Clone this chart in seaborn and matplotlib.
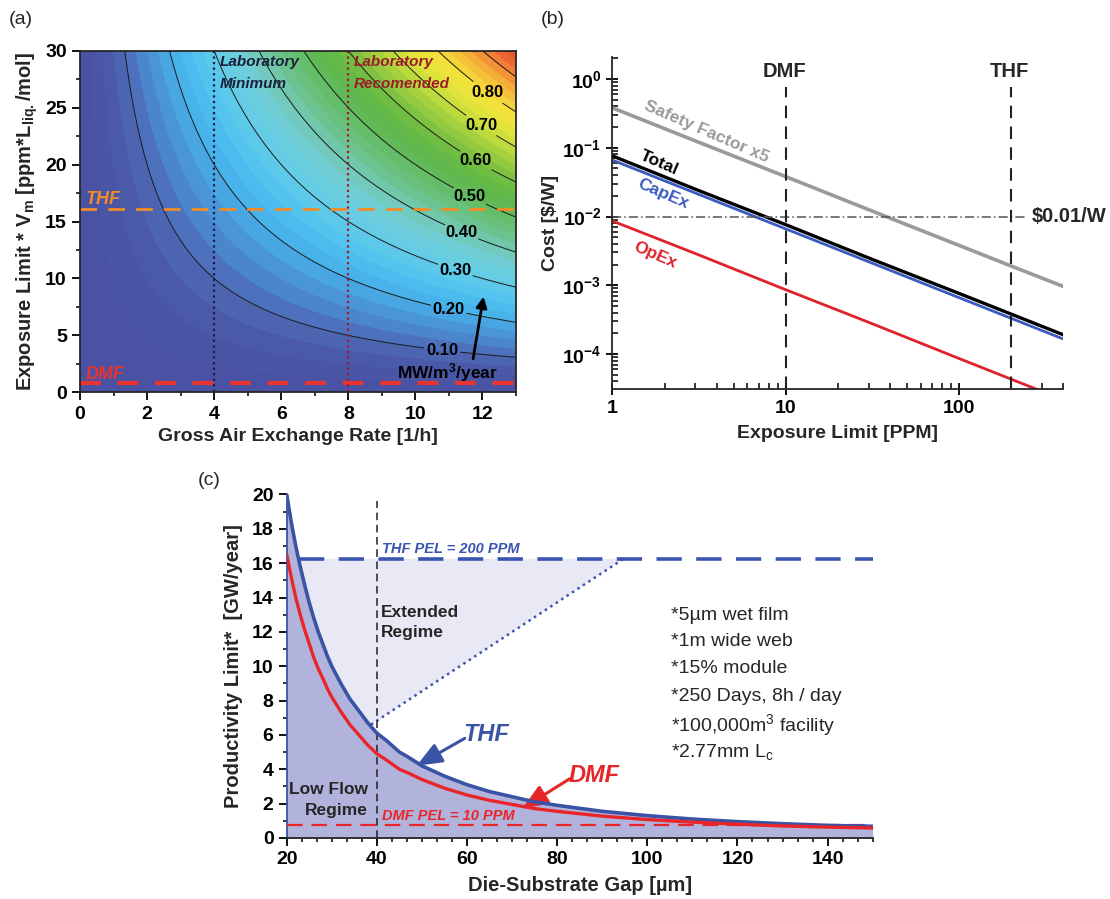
import numpy as np
import seaborn as sns
import matplotlib.pyplot as plt
from matplotlib.colors import LinearSegmentedColormap
from matplotlib.ticker import (MultipleLocator, AutoMinorLocator, FixedLocator,
                               FuncFormatter, LogLocator, NullFormatter)

# ---------------- data ----------------
# (a) productivity field, MW/m3/year = coef * ACH * (PEL*Vm); 0.10 contour passes (4, 10)
FIELD_COEF = 0.0025
ACH_RANGE = [0, 13]
EXPO_RANGE = [0, 30]
LINE_LEVELS = [0.1, 0.2, 0.3, 0.4, 0.5, 0.6, 0.7, 0.8, 0.9]
LABEL_LEVELS = [0.1, 0.2, 0.3, 0.4, 0.5, 0.6, 0.7, 0.8]
LABEL_SPOTS = [(10.8, 3.8), (11.0, 7.4), (11.2, 10.8), (11.4, 14.2),
               (11.65, 17.4), (11.85, 20.6), (12.0, 23.6), (12.2, 26.5)]
THF_LINE_A = 16.1
DMF_LINE_A = 0.8
LAB_MIN = 4
LAB_REC = 8

# (b) cost vs exposure limit
PPM = [1, 3, 10, 30, 100, 200, 400]
SAFETY = [0.38, 0.126, 0.038, 0.0126, 0.0038, 0.0019, 0.00096]
TOTAL = [0.076, 0.025, 0.0076, 0.0025, 0.00076, 0.00038, 0.00019]
CAPEX = [0.066, 0.022, 0.0066, 0.0022, 0.00066, 0.00033, 0.000165]
OPEX = [0.0086, 0.0029, 0.00086, 0.00029, 0.000086, 0.000043, 0.0000215]
TARGET = 0.01
DMF_PPM = 10
THF_PPM = 200

# (c) productivity limit vs die-substrate gap
GAP = [20, 21, 22, 23, 24, 25, 26, 27, 28, 29, 30, 32, 34, 36, 38, 40, 42,
       45, 47, 50, 55, 60, 65, 70, 75, 80, 90, 100, 110, 120, 130, 140, 150]
THF_GW = [20.0, 18.4, 17.0, 15.8, 14.7, 13.7, 12.8, 12.0, 11.3, 10.6, 10.0,
          9.0, 8.1, 7.4, 6.7, 6.1, 5.7, 5.0, 4.7, 4.2, 3.6, 3.1, 2.7, 2.4,
          2.1, 1.9, 1.55, 1.3, 1.1, 0.95, 0.83, 0.73, 0.68]
DMF_GW = [16.5, 15.2, 14.0, 13.0, 12.1, 11.3, 10.5, 9.85, 9.3, 8.7, 8.2,
          7.36, 6.6, 6.0, 5.4, 4.9, 4.56, 4.0, 3.78, 3.4, 2.9, 2.5, 2.19,
          1.95, 1.71, 1.55, 1.27, 1.07, 0.92, 0.8, 0.7, 0.63, 0.58]
THF_PEL = 16.25
DMF_PEL = 0.75
GAP_MARK = 40
EXT_START = (38.7, 6.6)
EXT_END = (94.7, THF_PEL)
NOTES = ["*5\u00b5m wet film", "*1m wide web", "*15% module",
         "*250 Days, 8h / day", r"*100,000m$\mathregular{^3}$ facility",
         r"*2.77mm L$\mathregular{_c}$"]

# ---------------- style ----------------
sns.set_theme(style="ticks")
plt.rcParams["font.family"] = ["Liberation Sans", "DejaVu Sans"]
plt.rcParams["font.weight"] = "bold"
plt.rcParams["axes.labelweight"] = "bold"
plt.rcParams["axes.linewidth"] = 1.3
plt.rcParams["xtick.color"] = "black"
plt.rcParams["ytick.color"] = "black"

fig = plt.figure(figsize=(11.1, 8.99), dpi=100)

# ================= (a) =================
ax = fig.add_axes([0.0721, 0.5636, 0.3928, 0.380])
cmap = LinearSegmentedColormap.from_list("origin_rainbow", [
    (0.00, "#4a50a2"), (0.06, "#4b58a8"), (0.10, "#4e6ab6"), (0.15, "#4a8ed3"),
    (0.20, "#47afe8"), (0.25, "#4cc2ef"), (0.30, "#62cbe9"), (0.35, "#6ecfdc"),
    (0.40, "#72c8b4"), (0.45, "#6bc286"), (0.50, "#62bb5c"), (0.55, "#5eb649"),
    (0.60, "#76bf43"), (0.65, "#9bcd3f"), (0.70, "#c4dc3c"), (0.75, "#e8e63c"),
    (0.80, "#f4e03a"), (0.85, "#f6b83a"), (0.90, "#f28a35"), (0.95, "#ec5e30"),
    (1.00, "#e84a2e")])
gx = np.linspace(ACH_RANGE[0], ACH_RANGE[1], 400)
gy = np.linspace(EXPO_RANGE[0], EXPO_RANGE[1], 400)
X, Y = np.meshgrid(gx, gy)
Z = FIELD_COEF * X * Y
ax.contourf(X, Y, Z, levels=np.arange(0, 1.0001, 0.025), cmap=cmap, vmin=0, vmax=1.0)
cs = ax.contour(X, Y, Z, levels=LINE_LEVELS, colors="#1a1a1a", linewidths=0.7)
labels = ax.clabel(cs, levels=LABEL_LEVELS, manual=LABEL_SPOTS, fmt="%.2f",
                   inline=True, inline_spacing=2, fontsize=12, colors="black")
for t in labels:
    t.set_rotation(0)
    t.set_fontweight("bold")

ax.axhline(THF_LINE_A, color="#f28c28", lw=2, ls=(0, (6, 4)))
ax.axhline(DMF_LINE_A, color="#e8332e", lw=3, ls=(0, (5, 4)))
ax.axvline(LAB_MIN, color="#1c1c44", lw=1.6, ls=(0, (1, 1.5)))
ax.axvline(LAB_REC, color="#a3192b", lw=1.6, ls=(0, (1, 1.5)))
ax.text(0.18, 16.9, "THF", color="#f28c28", style="italic",
        fontsize=13, va="center")
ax.text(0.16, 1.55, "DMF", color="#e8332e", style="italic",
        fontsize=13, va="center")
ax.text(LAB_MIN + 0.18, 29.0, "Laboratory", color="#1c1f3c", style="italic",
        fontsize=11, va="center")
ax.text(LAB_MIN + 0.18, 27.1, "Minimum", color="#1c1f3c", style="italic",
        fontsize=11, va="center")
ax.text(LAB_REC + 0.16, 29.0, "Laboratory", color="#9b1b2a", style="italic",
        fontsize=11, va="center")
ax.text(LAB_REC + 0.16, 27.1, "Recomended", color="#9b1b2a", style="italic",
        fontsize=11, va="center")
ax.text(10.94, 1.7, r"MW/m$\mathregular{^3}$/year", fontsize=12.5, ha="center",
        va="center", color="black")
ax.annotate("", xy=(12.03, 8.4), xytext=(11.72, 2.95),
            arrowprops=dict(arrowstyle="-|>", color="black", lw=2,
                            mutation_scale=16, shrinkA=0, shrinkB=0))
ax.set_xlim(ACH_RANGE)
ax.set_ylim(EXPO_RANGE)
ax.xaxis.set_major_locator(MultipleLocator(2))
ax.xaxis.set_minor_locator(MultipleLocator(1))
ax.yaxis.set_major_locator(MultipleLocator(5))
ax.yaxis.set_minor_locator(MultipleLocator(2.5))
ax.tick_params(which="major", direction="out", length=6, width=1.3, labelsize=14)
ax.tick_params(which="minor", direction="out", length=3, width=1.1)
ax.set_xlabel("Gross Air Exchange Rate [1/h]", fontsize=14, labelpad=4)
ax.set_ylabel(r"Exposure Limit * V$\mathregular{_m}$ [ppm*L$\mathregular{_{liq.}}$/mol]",
              fontsize=14.5, labelpad=4)

# ================= (b) =================
bx = fig.add_axes([0.5518, 0.5673, 0.4063, 0.3690])
sns.lineplot(x=PPM, y=SAFETY, ax=bx, color="#9a9a9a", lw=2.6)
sns.lineplot(x=PPM, y=TOTAL, ax=bx, color="black", lw=2.4)
sns.lineplot(x=PPM, y=CAPEX, ax=bx, color="#3a5bc0", lw=2)
sns.lineplot(x=PPM, y=OPEX, ax=bx, color="#e0202a", lw=2)
bx.set_xscale("log")
bx.set_yscale("log")
bx.set_xlim(1, 400)
bx.set_ylim(3.1e-5, 2.07)
bx.hlines(TARGET, 1, 240, color="#555555", lw=1.1, ls=(0, (6, 2, 1, 2)))
bx.text(263, TARGET, r"\$0.01/W", fontsize=14.5, va="center", ha="left", clip_on=False)
for xv, name in [(DMF_PPM, "DMF"), (THF_PPM, "THF")]:
    bx.vlines(xv, 3.1e-5, 0.76, color="#222222", lw=1.5, ls=(0, (6, 4)))
    bx.text(xv * 0.98, 1.3, name, fontsize=14.5, ha="center", va="center")
rot = -23.4
bx.text(3.49, 0.171, "Safety Factor x5", color="#9a9a9a", fontsize=12.5,
        rotation=rot, rotation_mode="anchor", ha="center", va="center")
bx.text(1.85, 0.0607, "Total", color="black", fontsize=12.5,
        rotation=rot, rotation_mode="anchor", ha="center", va="center")
bx.text(1.96, 0.0213, "CapEx", color="#3a5bc0", fontsize=12.5,
        rotation=rot, rotation_mode="anchor", ha="center", va="center")
bx.text(1.77, 0.00277, "OpEx", color="#e0202a", fontsize=12.5,
        rotation=rot, rotation_mode="anchor", ha="center", va="center")
bx.yaxis.set_major_locator(FixedLocator([1e-4, 1e-3, 1e-2, 1e-1, 1]))
bx.yaxis.set_major_formatter(FuncFormatter(
    lambda v, p: r"$\mathregular{10^{%d}}$" % round(np.log10(v))))
bx.yaxis.set_minor_locator(LogLocator(base=10, subs=np.arange(2, 10), numticks=20))
bx.yaxis.set_minor_formatter(NullFormatter())
bx.xaxis.set_major_locator(FixedLocator([1, 10, 100]))
bx.xaxis.set_major_formatter(FuncFormatter(lambda v, p: "%g" % v))
bx.xaxis.set_minor_locator(LogLocator(base=10, subs=np.arange(2, 10), numticks=20))
bx.xaxis.set_minor_formatter(NullFormatter())
bx.tick_params(which="major", direction="inout", length=9, width=1.3, labelsize=14)
bx.tick_params(which="minor", direction="in", length=4, width=1.1)
bx.spines[["top", "right"]].set_visible(False)
bx.set_xlabel("Exposure Limit [PPM]", fontsize=14, labelpad=6)
bx.set_ylabel(r"Cost [\$/W]", fontsize=14, labelpad=2)

# ================= (c) =================
cx = fig.add_axes([0.2583, 0.0679, 0.5279, 0.3821])
gap = np.array(GAP, dtype=float)
thf = np.array(THF_GW)
cx.fill_between(gap, 0, thf, color="#b2b3dc", lw=0, zorder=1)
x_top = np.interp(THF_PEL, thf[::-1], gap[::-1])
on_curve = (gap > x_top) & (gap < EXT_START[0])
poly_x = [x_top, EXT_END[0], EXT_START[0]] + list(gap[on_curve][::-1])
poly_y = [THF_PEL, EXT_END[1], EXT_START[1]] + list(thf[on_curve][::-1])
cx.fill(poly_x, poly_y, color="#e8e9f5", lw=0, zorder=1)
cx.plot([EXT_START[0], EXT_END[0]], [EXT_START[1], EXT_END[1]], color="#3a55b0",
        lw=1.8, ls=(0, (1, 1.6)), zorder=3)
cx.hlines(THF_PEL, x_top, 150, color="#3a55b0", lw=2.6, ls=(0, (7, 4)), zorder=3)
cx.hlines(DMF_PEL, 20, 150, color="#e8262a", lw=1.6, ls=(0, (7, 4)), zorder=3)
cx.vlines(GAP_MARK, 0, 19.6, color="#222222", lw=1.1, ls=(0, (5, 3)), zorder=3)
sns.lineplot(x=GAP, y=THF_GW, ax=cx, color="#3a53a4", lw=2.6, zorder=4)
sns.lineplot(x=GAP, y=DMF_GW, ax=cx, color="#e8262a", lw=2.4, zorder=4)
cx.text(41.2, 16.85, "THF PEL = 200 PPM", color="#3a55b0", style="italic",
        fontsize=10.5, va="center")
cx.text(41.2, 1.3, "DMF PEL = 10 PPM", color="#e8262a", style="italic",
        fontsize=10.5, va="center")
cx.text(41.0, 13.15, "Extended", fontsize=12.5, va="center")
cx.text(41.0, 11.95, "Regime", fontsize=12.5, va="center")
cx.text(38.0, 2.8, "Low Flow", fontsize=12.5, va="center", ha="right")
cx.text(38.0, 1.62, "Regime", fontsize=12.5, va="center", ha="right")
cx.text(64.3, 6.05, "THF", color="#3a53a4", style="italic", fontsize=17,
        ha="center", va="center")
cx.text(88.2, 3.65, "DMF", color="#e8262a", style="italic", fontsize=17,
        ha="center", va="center")
cx.annotate("", xy=(48.8, 4.2), xytext=(59.5, 5.8),
            arrowprops=dict(arrowstyle="-|>,head_width=0.45,head_length=1.1",
                            color="#3a53a4", lw=2.2, mutation_scale=14,
                            shrinkA=0, shrinkB=0))
cx.annotate("", xy=(72.3, 1.72), xytext=(82.8, 3.45),
            arrowprops=dict(arrowstyle="-|>,head_width=0.45,head_length=1.1",
                            color="#e8262a", lw=2.2, mutation_scale=14,
                            shrinkA=0, shrinkB=0))
note_y = [12.98, 11.43, 9.88, 8.23, 6.58, 5.03]
for yv, note in zip(note_y, NOTES):
    cx.text(105.2, yv, note, fontsize=14, fontweight="normal", va="center")
cx.set_xlim(20, 150)
cx.set_ylim(0, 20)
cx.xaxis.set_major_locator(MultipleLocator(20))
cx.xaxis.set_minor_locator(AutoMinorLocator(6))
cx.yaxis.set_major_locator(MultipleLocator(2))
cx.yaxis.set_minor_locator(AutoMinorLocator(2))
cx.tick_params(which="major", direction="out", length=6, width=1.3, labelsize=14)
cx.tick_params(which="minor", direction="out", length=3, width=1.1)
cx.spines[["top", "right"]].set_visible(False)
cx.spines["left"].set_color("#3a53a4")
cx.set_xlabel("Die-Substrate Gap [\u00b5m]", fontsize=14.5, labelpad=6)
cx.set_ylabel("Productivity Limit*  [GW/year]", fontsize=14.5, labelpad=6)

fig.text(0.008, 0.978, "(a)", fontsize=14, fontweight="normal", va="center")
fig.text(0.487, 0.978, "(b)", fontsize=14, fontweight="normal", va="center")
fig.text(0.178, 0.466, "(c)", fontsize=14, fontweight="normal", va="center")

fig.savefig("out.png", dpi=100)
